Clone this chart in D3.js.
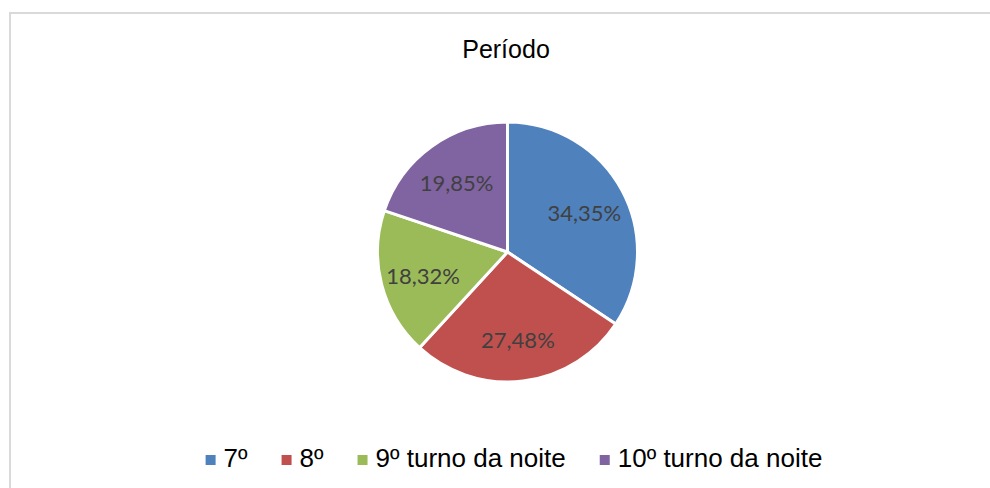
<!DOCTYPE html>
<html>
<head>
<meta charset="utf-8">
<script src="https://cdn.jsdelivr.net/npm/d3@7"></script>
<style>
  body { margin: 0; background: white; }
</style>
</head>
<body>
<script>

var width = 990,
    height = 488;

// data
var categories = ["7º", "8º", "9º turno da noite", "10º turno da noite"];
var values     = [34.35, 27.48, 18.32, 19.85];
var labels     = ["34,35%", "27,48%", "18,32%", "19,85%"];
var colors     = ["#4F81BD", "#C0504D", "#9BBB59", "#8064A2"];

var cx = 507.5,
    cy = 252,
    radius = 130;

var svg = d3.select("body")
            .append("svg")
            .attr("width", width)
            .attr("height", height);

// chart frame (only top and left visible)
svg.append("rect")
   .attr("x", 10)
   .attr("y", 13)
   .attr("width", 1000)
   .attr("height", 500)
   .style("fill", "white")
   .style("stroke", "#d9d9d9")
   .style("stroke-width", 2);

svg.append("text")
   .attr("x", 506)
   .attr("y", 58)
   .attr("text-anchor", "middle")
   .style("font-family", "'Liberation Sans', Arial, sans-serif")
   .style("font-size", "25px")
   .style("fill", "#000")
   .text("Período");

var pie = d3.pie().sort(null).value(function (d) { return d; });
var arcs = pie(values);

var arc = d3.arc().innerRadius(0).outerRadius(radius);
var labelArc = d3.arc().innerRadius(radius * 0.67).outerRadius(radius * 0.67);

var g = svg.append("g")
           .attr("transform", "translate(" + cx + "," + cy + ")");

g.selectAll("path")
 .data(arcs)
 .enter()
 .append("path")
 .attr("d", arc)
 .style("fill", function (d, i) { return colors[i]; })
 .style("stroke", "white")
 .style("stroke-width", 3)
 .style("stroke-linejoin", "round");

g.selectAll("text.lbl")
 .data(arcs)
 .enter()
 .append("text")
 .attr("class", "lbl")
 .attr("transform", function (d) { return "translate(" + labelArc.centroid(d) + ")"; })
 .attr("text-anchor", "middle")
 .attr("dy", "0.45em")
 .style("font-family", "Lato, 'Open Sans', sans-serif")
 .style("font-size", "22px")
 .style("fill", "#404040")
 .text(function (d, i) { return labels[i]; });

// legend, laid out from measured text widths and centred
var legend = svg.append("g");
var items = legend.selectAll("g")
                  .data(categories)
                  .enter()
                  .append("g");

items.append("rect")
     .attr("width", 10)
     .attr("height", 10)
     .attr("y", -12)
     .style("fill", function (d, i) { return colors[i]; });

items.append("text")
     .attr("x", 18)
     .attr("y", 0)
     .style("font-family", "'Liberation Sans', Arial, sans-serif")
     .style("font-size", "26px")
     .style("fill", "#000")
     .text(function (d) { return d; });

var xPos = 0;
items.each(function () {
  var w = d3.select(this).select("text").node().getComputedTextLength();
  d3.select(this).attr("transform", "translate(" + xPos + ",0)");
  xPos += 18 + w + 34;
});
var total = xPos - 34;
legend.attr("transform", "translate(" + (514 - total / 2) + ",467)");

</script>
</body>
</html>
